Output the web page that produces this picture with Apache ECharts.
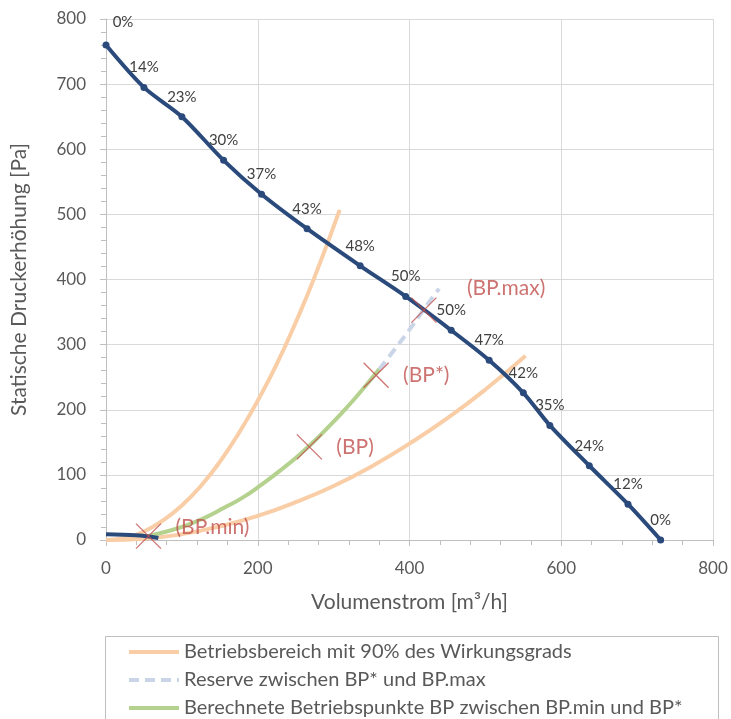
<!DOCTYPE html>
<html>
<head>
<meta charset="utf-8">
<script src="https://cdn.jsdelivr.net/npm/echarts@6/dist/echarts.min.js"></script>
<style>
  html, body { margin: 0; padding: 0; background: #fff; }
  #chart { width: 731px; height: 719px; }
</style>
</head>
<body>
<div id="chart"></div>
<script>
// Ventilatorkennlinie mit Wirkungsgrad
const fanX = [0, 50, 100, 155, 205, 265, 335, 395, 455, 505, 550, 585, 637, 688, 731]
const fanY = [760, 695, 650, 583, 531, 478, 421, 374, 322, 276, 226, 176, 114, 55, 0]
const fanEff = ['0%', '14%', '23%', '30%', '37%', '43%', '48%', '50%', '50%', '47%', '42%', '35%', '24%', '12%', '0%']

// kurzes Stück Kennlinie unten links
const lowX = [0, 23, 45, 69]
const lowY = [9, 8, 7, 3]

// Betriebsbereich 90% Wirkungsgrad (zwei Kurven)
const rangeUpX = [0, 25, 50, 75, 100, 125, 150, 175, 200, 225, 250, 275, 308]
const rangeUpY = [0, 3, 13, 30, 53, 83, 120, 164, 214, 270, 334, 404, 507]
const rangeLowX = [0, 50, 100, 150, 200, 250, 300, 350, 400, 450, 500, 553]
const rangeLowY = [0, 2, 9, 21, 37, 58, 83, 113, 148, 187, 231, 283]

// berechnete Betriebspunkte BP.min .. BP*
const bpLineX = [55, 80, 105, 130, 155, 180, 205, 230, 255, 280, 305, 330, 360]
const bpLineY = [6, 13, 22, 34, 49, 65, 85, 107, 131, 158, 188, 220, 262]

// Reserve BP* .. BP.max
const reserveX = [360, 380, 400, 420, 439]
const reserveY = [262, 292, 323, 356, 386]

// markierte Punkte
const markNames = ['(BP.min)', '(BP)', '(BP*)', '(BP.max)']
const markX = [56, 268, 356, 419]
const markY = [6, 143, 253, 353]

const legendNames = [
  'Betriebsbereich mit 90% des Wirkungsgrads',
  'Reserve zwischen BP* und BP.max',
  'Berechnete Betriebspunkte BP zwischen BP.min und BP*'
]

const zip = (xs, ys) => xs.map((x, i) => [x, ys[i]])

const font = 'Lato, "Open Sans", sans-serif'
const fanColor = '#2B4A7C'
const orange = '#F9CDA6'
const red = '#C0504D'
const gray = '#595959'

const myChart = echarts.init(document.getElementById('chart'))

// eine Legende je Zeile, damit nichts umbricht
const legends = legendNames.map((name, i) => ({
  data: [name],
  left: 122,
  top: 637 + i * 28,
  itemWidth: 50,
  itemHeight: 14,
  itemStyle: { opacity: 0 },
  lineStyle: { width: 4 },
  textStyle: { color: gray, fontSize: 20, fontFamily: font }
}))

const axisCommon = {
  type: 'value',
  min: 0,
  max: 800,
  nameLocation: 'middle',
  nameTextStyle: { color: gray, fontSize: 21, fontFamily: font },
  axisLine: { show: true, lineStyle: { color: '#BFBFBF' } },
  axisTick: { show: true, length: 6, lineStyle: { color: '#BFBFBF' } },
  minorTick: { show: true, splitNumber: 5, length: 5, lineStyle: { color: '#BFBFBF' } },
  splitLine: { show: true, lineStyle: { color: '#D9D9D9' } }
}

const option = {
  animation: false,
  textStyle: { fontFamily: font },
  grid: { left: 106, right: 18, top: 19, bottom: 179 },
  xAxis: {
    ...axisCommon,
    interval: 200,
    name: 'Volumenstrom [m³/h]',
    nameGap: 52,
    axisLabel: { color: gray, fontSize: 17, margin: 20, fontFamily: font }
  },
  yAxis: {
    ...axisCommon,
    interval: 100,
    name: 'Statische Druckerhöhung [Pa]',
    nameGap: 76,
    axisLabel: { color: gray, fontSize: 17, margin: 20, fontFamily: font }
  },
  legend: legends,
  graphic: [
    {
      type: 'rect',
      left: 103,
      top: 634,
      shape: { width: 613, height: 100 },
      style: { fill: 'none', stroke: '#BFBFBF', lineWidth: 1 },
      z: -1
    }
  ],
  series: [
    {
      name: legendNames[0],
      type: 'line',
      smooth: true,
      symbol: 'none',
      lineStyle: { color: orange, width: 4 },
      itemStyle: { color: orange },
      data: zip(rangeUpX, rangeUpY),
      z: 2
    },
    {
      name: legendNames[0],
      type: 'line',
      smooth: true,
      symbol: 'none',
      lineStyle: { color: orange, width: 4 },
      itemStyle: { color: orange },
      data: zip(rangeLowX, rangeLowY),
      z: 2
    },
    {
      name: legendNames[1],
      type: 'line',
      smooth: true,
      symbol: 'none',
      lineStyle: { color: '#CAD5E8', width: 4, type: [10, 6] },
      itemStyle: { color: '#CAD5E8' },
      data: zip(reserveX, reserveY),
      z: 2
    },
    {
      name: legendNames[2],
      type: 'line',
      smooth: true,
      symbol: 'none',
      lineStyle: { color: '#B5D18E', width: 4 },
      itemStyle: { color: '#B5D18E' },
      data: zip(bpLineX, bpLineY),
      z: 2
    },
    {
      name: 'Kennlinie',
      type: 'line',
      smooth: 0.3,
      symbol: 'circle',
      symbolSize: 7,
      lineStyle: { color: fanColor, width: 4 },
      itemStyle: { color: fanColor },
      label: {
        show: true,
        position: 'top',
        distance: 9,
        color: '#404040',
        fontSize: 15,
        fontFamily: font,
        formatter: p => fanEff[p.dataIndex]
      },
      data: zip(fanX, fanY).map((d, i) =>
        i === 0 ? { value: d, label: { offset: [17, -3] } } : d
      ),
      z: 3
    },
    {
      name: 'Anlage',
      type: 'line',
      smooth: true,
      symbol: 'none',
      lineStyle: { color: fanColor, width: 4 },
      data: zip(lowX, lowY),
      z: 3
    },
    {
      name: 'Punkte',
      type: 'scatter',
      symbol: 'path://M0,0L10,10M10,0L0,10',
      symbolSize: 25,
      itemStyle: { color: 'none', borderColor: red, borderWidth: 1.3 },
      label: {
        show: true,
        position: 'right',
        distance: 12,
        color: red,
        fontSize: 21,
        fontFamily: font,
        formatter: p => markNames[p.dataIndex]
      },
      data: zip(markX, markY).map((d, i) => {
        if (i === 0) return { value: d, label: { offset: [0, -9] } }
        if (i === 3) return { value: d, label: { offset: [16, -22] } }
        return d
      }),
      z: 4
    }
  ]
}

myChart.setOption(option)
</script>
</body>
</html>
